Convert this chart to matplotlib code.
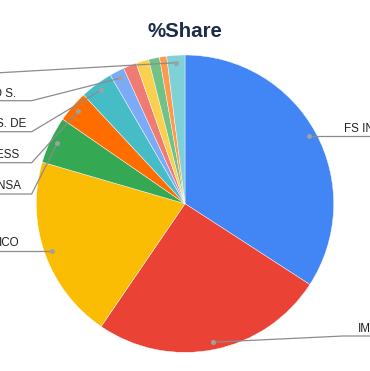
import numpy as np
import matplotlib.pyplot as plt

plt.rcParams['font.family'] = ['Liberation Sans', 'DejaVu Sans']

# slice data, clockwise from 12 o'clock
labels = ['FS IN', 'IM', 'ICO', 'NSA', 'ESS', 'S. DE', 'O S.', '', '', '', '', '']
shares = [34.14, 25.39, 19.97, 5.11, 3.44, 3.56, 1.61, 1.44, 1.39, 1.19, 0.78, 1.97]
colors = ['#4285f4', '#ea4335', '#fbbc04', '#34a853', '#ff6d01', '#46bdc6',
          '#7baaf7', '#f07b72', '#fcd04f', '#71c287', '#ff994d', '#7ed1d7']

W, H = 370, 371
def py(y):
    return H - y

fig = plt.figure(figsize=(3.7, 3.71), dpi=100)
ax = fig.add_axes([0, 0, 1, 1])
ax.set_xlim(0, W)
ax.set_ylim(0, H)
ax.axis('off')

cx, cy, R = 185, py(203.7), 148.7
ax.pie(shares, colors=colors, startangle=90, counterclock=False,
       center=(cx, cy), radius=R, frame=True,
       wedgeprops=dict(edgecolor='white', linewidth=0.3))
ax.set_xlim(0, W)
ax.set_ylim(0, H)
ax.set_aspect('equal')
ax.axis('off')

# midpoints of each slice for the leader dots
total = sum(shares)
cum = np.cumsum([0] + shares[:-1])
mids = np.radians(90 - 360 * (cum + np.array(shares) / 2) / total)
dots = [(cx + 0.95 * R * np.cos(a), cy + 0.95 * R * np.sin(a)) for a in mids]

# label layout: slice index -> (text x, baseline y, align, elbow points in px)
layout = {
    0: (344.3, 132.3, 'left', [(380, None)]),
    1: (358.3, 332.3, 'left', [(343.3, 336), (380, 336)]),
    2: (19, 245.7, 'right', [(-10, None)]),
    3: (20.7, 189, 'right', [(31.7, 194), (-10, 194)]),
    4: (19, 158, 'right', [(31.7, 162.7), (-10, 162.7)]),
    5: (26, 127.3, 'right', [(31.7, 131.7), (-10, 131.7)]),
    6: (16, 96.7, 'right', [(31.7, 100.7), (-10, 100.7)]),
    11: (None, None, 'right', [(-10, 73.3)]),
}

for i, (tx, ty, ha, pts) in layout.items():
    dx, dy = dots[i]
    xs, ys = [dx], [dy]
    for px_, py_ in pts:
        xs.append(px_)
        ys.append(dy if py_ is None else py(py_))
    ax.plot(xs, ys, color='#8c8c8c', lw=0.9, clip_on=False, solid_capstyle='butt')
    ax.plot([dx], [dy], 'o', ms=3.6, color='#a0a0a0', mec='none')
    if tx is not None:
        ax.text(tx, py(ty), labels[i], ha=ha, va='baseline', fontsize=8.4, color='#222222')

ax.text(185, py(37.3), '%Share', ha='center', va='baseline', fontsize=14.8,
        fontweight='bold', color='#1c2b4a')

fig.savefig('out.png', dpi=100)
